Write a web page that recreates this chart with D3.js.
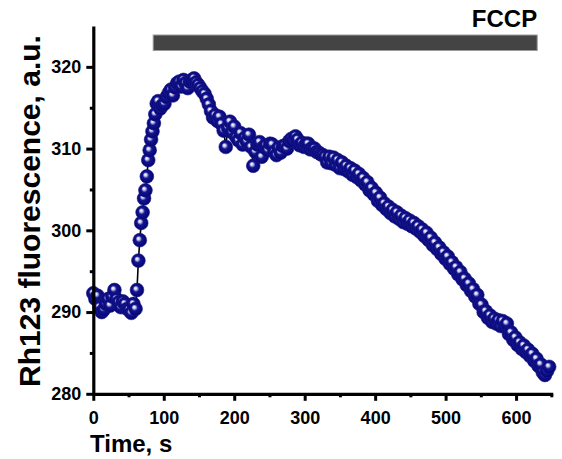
<!DOCTYPE html>
<html>
<head>
<meta charset="utf-8">
<script src="https://cdn.jsdelivr.net/npm/d3@7"></script>
<style>
  body { margin: 0; background: #fff; }
  text { font-family: "Liberation Sans", Arial, sans-serif; font-weight: bold; fill: #000; }
</style>
</head>
<body>
<div id="chart"></div>
<script>
// time points (s)
const times = [
  0, 3, 6, 9, 12, 15, 18, 21, 24, 27, 30, 33, 36, 39, 42, 45, 48, 51, 54, 57, 60,
  62, 64, 66, 68, 70, 72, 74, 76, 78, 80, 82, 84, 86, 88, 90, 92,
  95, 98, 101, 104, 107, 110, 113, 116, 119, 122, 125, 128, 131, 134, 137, 140, 143, 146, 149,
  152, 155, 158, 161, 164, 167, 170, 173, 176, 179, 182, 185, 188, 191, 194, 197, 200, 203, 206, 209,
  212, 215, 218, 221, 224, 227, 230, 233, 236, 239, 242, 245, 248, 251, 254, 257, 260, 263, 266, 269,
  272, 275, 278, 281, 284, 287, 290, 293, 296, 299, 302, 305, 308, 311, 314, 317, 320, 323, 326, 329,
  332, 335, 338, 341, 344, 347, 350, 353, 356, 359, 362, 365, 368, 371, 374, 377, 380, 383, 386, 389,
  392, 395, 398, 401, 404, 407, 410, 413, 416, 419, 422, 425, 428, 431, 434, 437, 440, 443, 446, 449,
  452, 455, 458, 461, 464, 467, 470, 473, 476, 479, 482, 485, 488, 491, 494, 497, 500, 503, 506, 509,
  512, 515, 518, 521, 524, 527, 530, 533, 536, 539, 542, 545, 548, 551, 554, 557, 560, 563, 566, 569,
  572, 575, 578, 581, 584, 587, 590, 593, 596, 599, 602, 605, 608, 611, 614, 617, 620, 623, 626, 629,
  632, 635, 638, 641, 644, 647
];
// Rh123 fluorescence (a.u.)
const rh123 = [
  292.3, 291.6, 292.0, 290.6, 290.0, 290.3, 291.0, 291.6, 290.8, 291.9, 292.7, 291.6, 291.2, 290.6, 291.3, 291.0, 290.4, 290.3, 289.9, 291.0, 290.4,
  292.7, 296.3, 298.8, 300.9, 302.2, 303.9, 304.9, 306.6, 308.6, 309.8, 311.1, 312.1, 313.1, 314.2, 315.5, 315.8,
  314.9, 315.3, 315.5, 316.3, 316.8, 317.2, 316.5, 317.5, 318.0, 318.2, 317.6, 318.4, 318.0, 317.4, 318.2, 318.4, 318.6, 318.1, 317.8,
  317.4, 317.0, 316.7, 316.1, 315.4, 314.6, 313.8, 314.1, 313.4, 313.9, 313.0, 312.2, 310.2, 312.6, 313.3, 312.0, 312.7, 311.4, 311.0, 311.9,
  310.5, 311.3, 310.9, 311.7, 310.2, 307.9, 309.6, 310.5, 310.8, 309.0, 310.2, 310.4, 309.8, 310.6, 310.5, 309.6, 309.2, 310.1, 309.5, 310.3,
  310.4, 310.0, 310.9, 311.2, 311.0, 311.5, 311.1, 310.4, 310.7, 310.2, 310.6, 310.6, 309.9, 310.1, 310.0, 309.6, 309.5, 309.3, 309.2, 309.0,
  308.3, 309.0, 308.2, 308.9, 308.0, 308.6, 307.6, 308.3, 307.5, 307.9, 307.2, 307.6, 306.8, 307.3, 306.5, 306.9, 306.1, 306.4, 305.6, 305.9,
  304.9, 305.2, 304.4, 304.6, 303.6, 304.0, 303.1, 303.3, 302.6, 302.9, 302.1, 302.5, 301.7, 302.2, 301.4, 301.8, 301.0, 301.5, 300.8, 301.2,
  300.5, 300.9, 300.2, 300.5, 299.8, 300.1, 299.3, 299.7, 298.8, 299.1, 298.2, 298.5, 297.7, 297.9, 297.1, 297.3, 296.5, 296.8, 295.9, 296.1,
  295.3, 295.5, 294.6, 294.9, 294.0, 294.1, 293.3, 293.5, 292.6, 292.8, 291.9, 292.1, 291.0, 290.9, 290.0, 290.1, 289.3, 289.6, 288.8, 289.2,
  288.6, 289.0, 288.3, 288.9, 288.2, 288.6, 287.3, 287.5, 286.6, 286.9, 286.0, 286.3, 285.5, 285.9, 285.1, 285.4, 284.6, 284.9, 284.0, 284.3,
  283.4, 283.6, 282.6, 282.3, 282.8, 283.3
];
const xTicks = [0, 100, 200, 300, 400, 500, 600];
const xMinor = [50, 150, 250, 350, 450, 550, 650];
const yTicks = [280, 290, 300, 310, 320];
const yMinor = [285, 295, 305, 315];
const fccp = [85, 630]; // drug application window, s

const data = times.map((t, i) => ({ t: t, v: rh123[i] }));

// set the dimensions and margins of the graph
const W = 562, H = 459;
const margin = { top: 26, left: 93.3, right: 9.3, bottom: 65.2 },
    width = W - margin.left - margin.right,
    height = H - margin.top - margin.bottom;

const svg = d3.select("#chart")
    .append("svg")
    .attr("width", W)
    .attr("height", H);

const defs = svg.append("defs");
const grad = defs.append("radialGradient")
    .attr("id", "ball")
    .attr("cx", "0.5").attr("cy", "0.5").attr("r", "0.55")
    .attr("fx", "0.38").attr("fy", "0.36");
grad.append("stop").attr("offset", "0%").attr("stop-color", "#ffffff");
grad.append("stop").attr("offset", "18%").attr("stop-color", "#c9c9ee");
grad.append("stop").attr("offset", "42%").attr("stop-color", "#141490");
grad.append("stop").attr("offset", "100%").attr("stop-color", "#000070");

const g = svg.append("g")
    .attr("transform", "translate(" + margin.left + "," + margin.top + ")");

const x = d3.scaleLinear().domain([0, 652]).range([0, width]);
const y = d3.scaleLinear().domain([280, 325]).range([height, 0]);

// FCCP bar
g.append("rect")
    .attr("x", x(fccp[0]))
    .attr("y", 9)
    .attr("width", x(fccp[1]) - x(fccp[0]))
    .attr("height", 15.5)
    .attr("fill", "#444444")
    .attr("stroke", "#9a9a9a")
    .attr("stroke-width", 1);

g.append("text")
    .attr("x", x(fccp[1]))
    .attr("y", 1.3)
    .attr("text-anchor", "end")
    .attr("font-size", 24)
    .text("FCCP");

// connecting line
g.append("path")
    .datum(data)
    .attr("fill", "none")
    .attr("stroke", "#000")
    .attr("stroke-width", 1.6)
    .attr("d", d3.line().x(d => x(d.t)).y(d => y(d.v)));

// dots
g.append("g")
    .selectAll("circle")
    .data(data)
    .enter()
    .append("circle")
    .attr("cx", d => x(d.t))
    .attr("cy", d => y(d.v))
    .attr("r", 6.9)
    .attr("fill", "url(#ball)")
    .attr("stroke", "#1c1c86")
    .attr("stroke-width", 0.6);

// axes
function styleAxis(sel) {
    sel.select(".domain").attr("stroke", "#000").attr("stroke-width", 3.2);
    sel.selectAll(".tick line").attr("stroke", "#000").attr("stroke-width", 3);
    sel.selectAll(".tick text").attr("font-size", 18).attr("font-family", null).attr("font-weight", "bold");
}

const xAxis = g.append("g")
    .attr("transform", "translate(0," + height + ")")
    .call(d3.axisBottom(x).tickValues(xTicks).tickSize(7).tickSizeOuter(0).tickPadding(10));
styleAxis(xAxis);

g.append("g")
    .attr("transform", "translate(0," + height + ")")
    .call(d3.axisBottom(x).tickValues(xMinor).tickSize(3.5).tickFormat(""))
    .call(s => s.select(".domain").remove())
    .call(s => s.selectAll(".tick line").attr("stroke", "#000").attr("stroke-width", 3));

const yAxis = g.append("g")
    .call(d3.axisLeft(y).tickValues(yTicks).tickSize(7).tickSizeOuter(0).tickPadding(5));
styleAxis(yAxis);

g.append("g")
    .call(d3.axisLeft(y).tickValues(yMinor).tickSize(3.5).tickFormat(""))
    .call(s => s.select(".domain").remove())
    .call(s => s.selectAll(".tick line").attr("stroke", "#000").attr("stroke-width", 3));

// axis labels
svg.append("text")
    .attr("x", 90)
    .attr("y", 451.5)
    .attr("font-size", 24)
    .text("Time, s");

svg.append("text")
    .attr("transform", "translate(40,211) rotate(-90)")
    .attr("text-anchor", "middle")
    .attr("font-size", 30)
    .text("Rh123 fluorescence, a.u.");
</script>
</body>
</html>
